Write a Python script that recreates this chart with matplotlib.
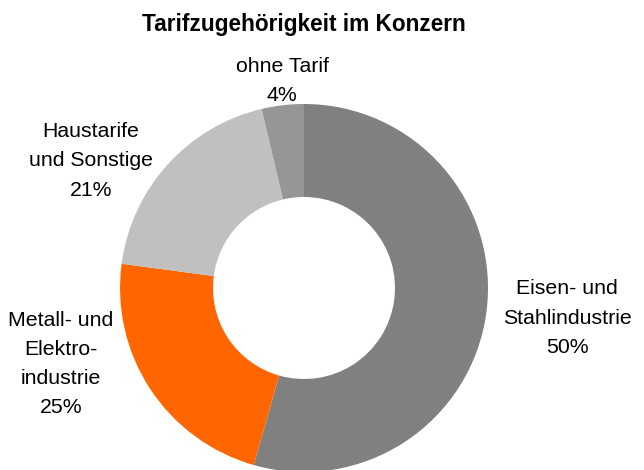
import matplotlib
matplotlib.use('Agg')
import matplotlib.pyplot as plt

# Données du graphique (lecture sur l'image)
categories = ['Eisen- und\nStahlindustrie', 'Metall- und\nElektro-\nindustrie',
              'Haustarife\nund Sonstige', 'ohne Tarif']
shares = [54.4, 22.7, 19.2, 3.7]          # angles des secteurs
pct_labels = ['50%', '25%', '21%', '4%']  # pourcentages affichés
colors = ['#808080', '#FF6600', '#C0C0C0', '#969696']

plt.rcParams['font.family'] = ['Liberation Sans', 'DejaVu Sans']

W, H = 644, 470
fig = plt.figure(figsize=(W / 100, H / 100), dpi=100)
ax = fig.add_axes([0, 0, 1, 1])

# Anneau
cx, cy = 304, H - 288
ax.pie(shares, colors=colors, startangle=90, counterclock=False,
       center=(cx, cy), radius=184,
       wedgeprops=dict(width=93, edgecolor='none'))
ax.set_xlim(0, W)
ax.set_ylim(0, H)
ax.set_aspect('equal')
ax.axis('off')

# Étiquettes (positions en pixels depuis le haut)
label_pos = [(567, 318), (61, 364), (91, 161), (282, 81)]
for cat, pct, (x, y) in zip(categories, pct_labels, label_pos):
    ax.text(x, H - y, cat + '\n' + pct, ha='center', va='center',
            fontsize=15.3, linespacing=1.68, color='black')

fig.text(304 / W, 1 - 31 / H, 'Tarifzugehörigkeit im Konzern',
         ha='center', va='baseline', fontsize=16.3, fontweight='bold')

fig.savefig('out.png', dpi=100)
